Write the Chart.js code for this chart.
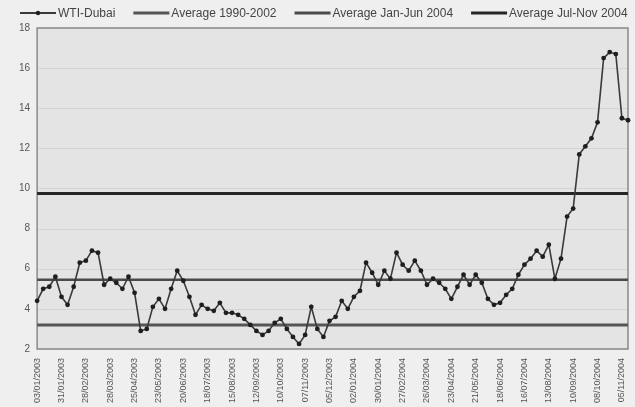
<!DOCTYPE html>
<html>
<head>
<meta charset="utf-8">
<script src="https://cdn.jsdelivr.net/npm/chart.js@4"></script>
<style>
  html, body { margin: 0; padding: 0; background: #efefef; }
  #wrap { width: 635px; height: 407px; }
</style>
</head>
<body>
<div id="wrap"><canvas id="spread" width="635" height="407"></canvas></div>
<script>
// weekly observations, Jan 2003 - Nov 2004
const weeks = [
  '03/01/2003','10/01/2003','17/01/2003','24/01/2003','31/01/2003','07/02/2003','14/02/2003','21/02/2003',
  '28/02/2003','07/03/2003','14/03/2003','21/03/2003','28/03/2003','04/04/2003','11/04/2003','18/04/2003',
  '25/04/2003','02/05/2003','09/05/2003','16/05/2003','23/05/2003','30/05/2003','06/06/2003','13/06/2003',
  '20/06/2003','27/06/2003','04/07/2003','11/07/2003','18/07/2003','25/07/2003','01/08/2003','08/08/2003',
  '15/08/2003','22/08/2003','29/08/2003','05/09/2003','12/09/2003','19/09/2003','26/09/2003','03/10/2003',
  '10/10/2003','17/10/2003','24/10/2003','31/10/2003','07/11/2003','14/11/2003','21/11/2003','28/11/2003',
  '05/12/2003','12/12/2003','19/12/2003','26/12/2003','02/01/2004','09/01/2004','16/01/2004','23/01/2004',
  '30/01/2004','06/02/2004','13/02/2004','20/02/2004','27/02/2004','05/03/2004','12/03/2004','19/03/2004',
  '26/03/2004','02/04/2004','09/04/2004','16/04/2004','23/04/2004','30/04/2004','07/05/2004','14/05/2004',
  '21/05/2004','28/05/2004','04/06/2004','11/06/2004','18/06/2004','25/06/2004','02/07/2004','09/07/2004',
  '16/07/2004','23/07/2004','30/07/2004','06/08/2004','13/08/2004','20/08/2004','27/08/2004','03/09/2004',
  '10/09/2004','17/09/2004','24/09/2004','01/10/2004','08/10/2004','15/10/2004','22/10/2004','29/10/2004',
  '05/11/2004','12/11/2004'
];

const wtiDubai = [
  4.4, 5.0, 5.1, 5.6, 4.6, 4.2, 5.1, 6.3, 6.4, 6.9, 6.8, 5.2, 5.5, 5.3, 5.0, 5.6,
  4.8, 2.9, 3.0, 4.1, 4.5, 4.0, 5.0, 5.9, 5.4, 4.6, 3.7, 4.2, 4.0, 3.9, 4.3, 3.8,
  3.8, 3.7, 3.5, 3.2, 2.9, 2.7, 2.9, 3.3, 3.5, 3.0, 2.6, 2.25, 2.7, 4.1, 3.0, 2.6,
  3.4, 3.6, 4.4, 4.0, 4.6, 4.9, 6.3, 5.8, 5.2, 5.9, 5.5, 6.8, 6.2, 5.9, 6.4, 5.9,
  5.2, 5.5, 5.3, 5.0, 4.5, 5.1, 5.7, 5.2, 5.7, 5.3, 4.5, 4.2, 4.3, 4.7, 5.0, 5.7,
  6.2, 6.5, 6.9, 6.6, 7.2, 5.5, 6.5, 8.6, 9.0, 11.7, 12.1, 12.5, 13.3, 16.5, 16.8, 16.7,
  13.5, 13.4
];

const avg9002 = 3.2;
const avgJanJun04 = 5.45;
const avgJulNov04 = 9.75;

const yTicks = [2, 4, 6, 8, 10, 12, 14, 16, 18];

const flat = v => weeks.map(() => v);

// grey plot area with a thin frame
const plotFrame = {
  id: 'plotFrame',
  beforeDatasetsDraw(chart) {
    const a = chart.chartArea, ctx = chart.ctx;
    ctx.save();
    ctx.fillStyle = '#e4e4e4';
    ctx.fillRect(a.left, a.top, a.right - a.left, a.bottom - a.top);
    ctx.strokeStyle = '#d4d4d4';
    ctx.lineWidth = 1;
    yTicks.forEach(t => {
      const y = Math.round(chart.scales.y.getPixelForValue(t)) + 0.5;
      ctx.beginPath(); ctx.moveTo(a.left, y); ctx.lineTo(a.right, y); ctx.stroke();
    });
    ctx.strokeStyle = '#8a8a8a';
    ctx.lineWidth = 1.5;
    ctx.strokeRect(a.left, a.top, a.right - a.left, a.bottom - a.top);
    ctx.restore();
  }
};

// one row of line samples + names spread across the top
const topLegend = {
  id: 'topLegend',
  afterDraw(chart) {
    const ctx = chart.ctx;
    let x = 20;
    const y = 13;
    ctx.save();
    ctx.font = '12px "Liberation Sans"';
    ctx.textBaseline = 'middle';
    chart.data.datasets.forEach((ds, i) => {
      ctx.strokeStyle = ds.borderColor;
      ctx.lineWidth = i === 0 ? 2 : 3;
      ctx.beginPath(); ctx.moveTo(x, y); ctx.lineTo(x + 36, y); ctx.stroke();
      if (i === 0) {
        ctx.fillStyle = ds.backgroundColor;
        ctx.beginPath(); ctx.arc(x + 18, y, 2.2, 0, Math.PI * 2); ctx.fill();
      }
      x += 38;
      ctx.fillStyle = '#444';
      ctx.fillText(ds.label, x, y + 0.5);
      x += ctx.measureText(ds.label).width + 18;
    });
    ctx.restore();
  }
};

new Chart(document.getElementById('spread'), {
  type: 'line',
  data: {
    labels: weeks,
    datasets: [
      {
        label: 'WTI-Dubai',
        data: wtiDubai,
        borderColor: '#3a3a3a',
        backgroundColor: '#1e1e1e',
        borderWidth: 1.6,
        pointRadius: 2.4,
        pointBorderWidth: 0,
        pointStyle: 'circle',
        tension: 0,
        order: 0
      },
      {
        label: 'Average 1990-2002',
        data: flat(avg9002),
        borderColor: '#555555',
        backgroundColor: '#555555',
        borderWidth: 3,
        pointRadius: 0,
        order: 1
      },
      {
        label: 'Average Jan-Jun 2004',
        data: flat(avgJanJun04),
        borderColor: '#4a4a4a',
        backgroundColor: '#4a4a4a',
        borderWidth: 2.5,
        pointRadius: 0,
        order: 2
      },
      {
        label: 'Average Jul-Nov 2004',
        data: flat(avgJulNov04),
        borderColor: '#262626',
        backgroundColor: '#262626',
        borderWidth: 3,
        pointRadius: 0,
        order: 3
      }
    ]
  },
  options: {
    responsive: false,
    animation: false,
    layout: { padding: { left: 12, right: 7, top: 28, bottom: -5 } },
    plugins: {
      legend: { display: false },
      tooltip: { enabled: false }
    },
    scales: {
      x: {
        offset: false,
        grid: { display: false, drawTicks: false },
        border: { display: false },
        // rotated labels don't need extra room at the ends
        afterFit(scale) { scale.paddingLeft = 0; scale.paddingRight = 0; },
        ticks: {
          autoSkip: false,
          maxRotation: 90,
          minRotation: 90,
          padding: 9,
          color: '#555',
          font: { family: 'Liberation Sans', size: 9 },
          callback(val, i) { return i % 4 === 0 ? this.getLabelForValue(val) : null; }
        }
      },
      y: {
        min: 2,
        max: 18,
        grid: { display: false, drawTicks: false },
        border: { display: false },
        afterBuildTicks(scale) { scale.ticks = yTicks.map(v => ({ value: v })); },
        ticks: {
          color: '#555',
          padding: 7,
          font: { family: 'Liberation Sans', size: 10 }
        }
      }
    }
  },
  plugins: [plotFrame, topLegend]
});
</script>
</body>
</html>
